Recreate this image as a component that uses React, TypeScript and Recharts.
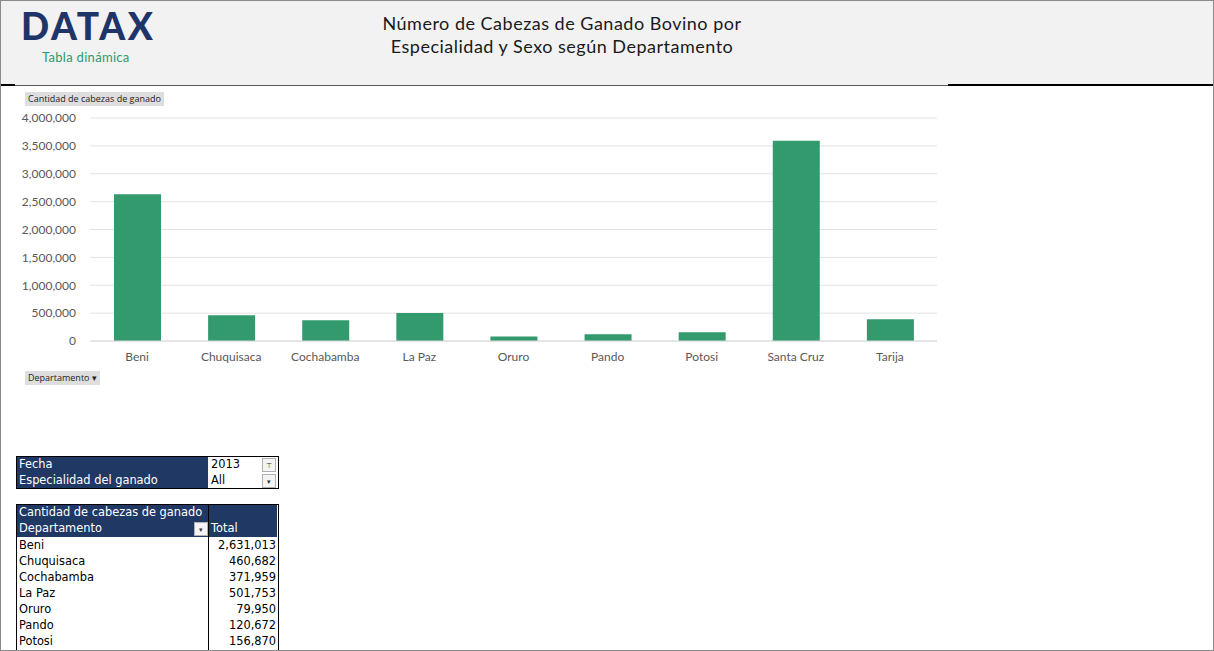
import React from "react";
import { BarChart, Bar, XAxis, YAxis, CartesianGrid } from "recharts";

const departamentos = ["Beni", "Chuquisaca", "Cochabamba", "La Paz", "Oruro", "Pando", "Potosi", "Santa Cruz", "Tarija"];
const cabezas = [2631013, 460682, 371959, 501753, 79950, 120672, 156870, 3590000, 392000];
const yTicks = [0, 500000, 1000000, 1500000, 2000000, 2500000, 3000000, 3500000, 4000000];
// rows of the pivot table visible in the window
const filasVisibles = 7;

const NAVY = "#203864";
const GREEN = "#339a6e";
const fmt = (v: number) => v.toLocaleString("en-US");

const data = departamentos.map((d, i) => ({ name: d, value: cabezas[i] }));

function DropBtn({ left, top, filter }: { left: number; top: number; filter?: boolean }) {
  return (
    <div
      style={{
        position: "absolute", left, top, width: 12, height: 12, background: "#f4f4f4",
        border: "1px solid #b0b0b0", fontSize: 7, lineHeight: "12px", textAlign: "center", color: "#333",
      }}
    >
      {filter ? "⊤" : "▾"}
    </div>
  );
}

export default function App() {
  const tableFont = "'DejaVu Sans', Verdana, sans-serif";
  const cell: React.CSSProperties = { position: "absolute", fontFamily: tableFont, fontSize: 11.4, lineHeight: "16px", whiteSpace: "nowrap" };

  return (
    <div style={{ position: "absolute", left: 0, top: 0, width: 1214, height: 651, overflow: "hidden", background: "#fff", fontFamily: "Lato, sans-serif" }}>
      {/* header */}
      <div style={{ position: "absolute", left: 0, top: 0, width: 1214, height: 85, background: "#f2f2f2", borderBottom: "1px solid #595959" }} />
      <div style={{ position: "absolute", left: 948, top: 84, width: 266, height: 2, background: "#000" }} />
      <div style={{ position: "absolute", left: 0, top: 84, width: 15, height: 2, background: "#000" }} />
      <div style={{ position: "absolute", left: 21, top: 3, fontSize: 37, fontWeight: 900, color: "#1f3468", letterSpacing: 2.6, fontFamily: "Lato, sans-serif" }}>
        DATAX
      </div>
      <div style={{ position: "absolute", left: 42, top: 49, fontSize: 13, color: "#2e9a6c", letterSpacing: 0.3 }}>Tabla dinámica</div>
      <div style={{ position: "absolute", left: 262, top: 12, width: 600, textAlign: "center", fontSize: 18, letterSpacing: 0.5, lineHeight: "23px", color: "#1a1a1a" }}>
        Número de Cabezas de Ganado Bovino por
        <br />
        Especialidad y Sexo según Departamento
      </div>

      {/* chart */}
      <div style={{ position: "absolute", left: 25, top: 92, height: 14, padding: "0 3px", background: "#dedede", fontSize: 9, lineHeight: "14px", color: "#222", fontFamily: "'Open Sans', sans-serif" }}>
        Cantidad de cabezas de ganado
      </div>
      <div style={{ position: "absolute", left: 15, top: 100 }}>
        <BarChart width={935} height={280} data={data} margin={{ top: 18, right: 13, left: 5, bottom: 9 }}>
          <CartesianGrid vertical={false} stroke="#e3e3e3" />
          <XAxis
            dataKey="name" height={30} axisLine={{ stroke: "#d9d9d9" }} tickLine={false}
            tick={{ fill: "#595959", fontSize: 12, fontFamily: "Lato, sans-serif" }} tickMargin={5}
          />
          <YAxis
            width={70} domain={[0, 4000000]} ticks={yTicks} tickFormatter={fmt} axisLine={false} tickLine={false}
            tick={{ fill: "#595959", fontSize: 12, fontFamily: "Lato, sans-serif" }} tickMargin={8}
          />
          <Bar dataKey="value" fill={GREEN} barSize={47} isAnimationActive={false} />
        </BarChart>
      </div>
      <div style={{ position: "absolute", left: 25, top: 371, height: 14, padding: "0 3px", background: "#dedede", fontSize: 9, lineHeight: "14px", color: "#222", fontFamily: "'Open Sans', sans-serif" }}>
        Departamento ▾
      </div>

      {/* filters */}
      <div style={{ position: "absolute", left: 16, top: 456, width: 261, height: 31, border: "1px solid #000", background: "#fff" }} />
      <div style={{ position: "absolute", left: 17, top: 457, width: 191, height: 31, background: NAVY }} />
      <div style={{ ...cell, left: 19, top: 456, color: "#fff" }}>Fecha</div>
      <div style={{ ...cell, left: 19, top: 472, color: "#fff" }}>Especialidad del ganado</div>
      <div style={{ ...cell, left: 211, top: 456, color: "#000" }}>2013</div>
      <div style={{ ...cell, left: 211, top: 472, color: "#000" }}>All</div>
      <DropBtn left={262} top={458} filter />
      <DropBtn left={262} top={474} />

      {/* pivot table */}
      <div style={{ position: "absolute", left: 16, top: 504, width: 261, height: 160, border: "1px solid #000", background: "#fff" }} />
      <div style={{ position: "absolute", left: 17, top: 505, width: 260, height: 32, background: NAVY }} />
      <div style={{ position: "absolute", left: 208, top: 505, width: 1, height: 160, background: "#000" }} />
      <div style={{ ...cell, left: 19, top: 504, color: "#fff" }}>Cantidad de cabezas de ganado</div>
      <div style={{ ...cell, left: 19, top: 520, color: "#fff" }}>Departamento</div>
      <div style={{ ...cell, left: 211, top: 520, color: "#fff" }}>Total</div>
      <DropBtn left={194} top={522} />
      {departamentos.slice(0, filasVisibles).map((d, i) => (
        <React.Fragment key={d}>
          <div style={{ ...cell, left: 19, top: 537 + i * 16, color: "#000" }}>{d}</div>
          <div style={{ ...cell, left: 209, width: 67, textAlign: "right", top: 537 + i * 16, color: "#000" }}>{fmt(cabezas[i])}</div>
        </React.Fragment>
      ))}

      {/* frame */}
      <div style={{ position: "absolute", left: 0, top: 0, width: 1212, height: 649, border: "1px solid #8a8a8a", pointerEvents: "none" }} />
    </div>
  );
}
